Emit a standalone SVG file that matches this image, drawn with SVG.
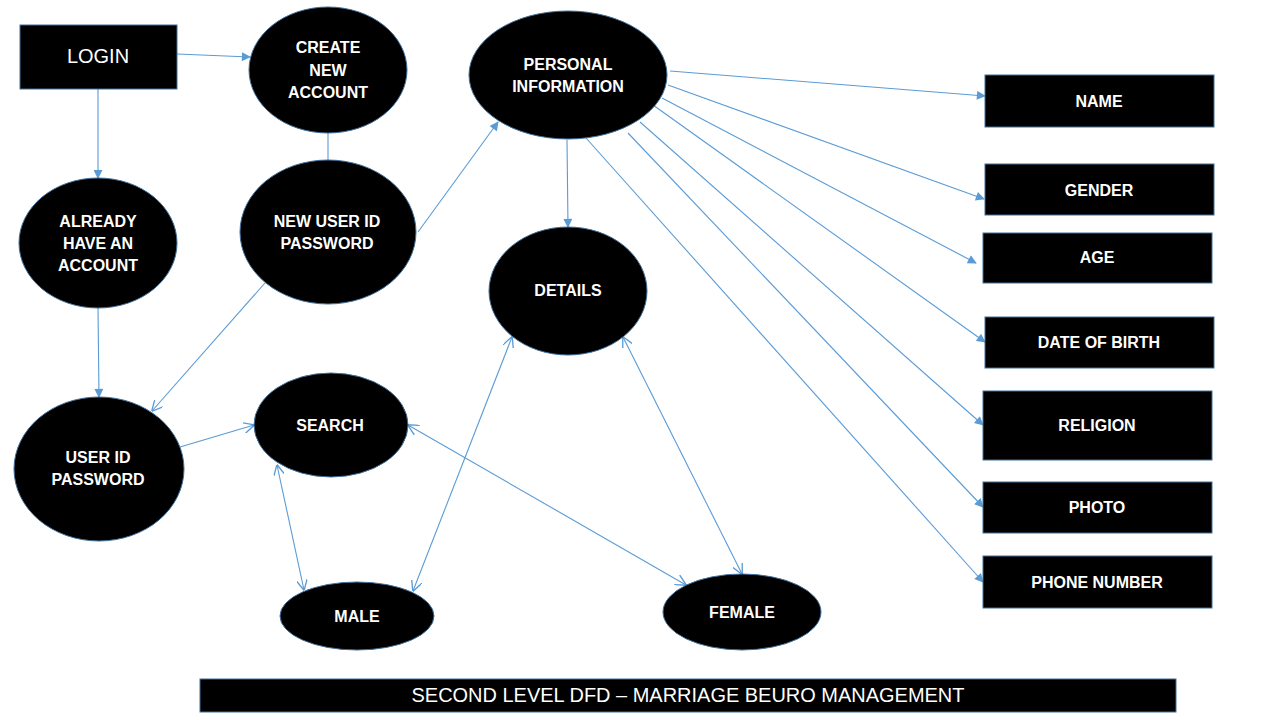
<svg xmlns="http://www.w3.org/2000/svg" width="1280" height="720" viewBox="0 0 1280 720">
<style>
.n{fill:#000;stroke:#41719C;stroke-width:1}
.t{fill:#fff;font-family:"Liberation Sans",Arial,sans-serif;font-weight:bold;font-size:16px;text-anchor:middle}
.r{fill:#fff;font-family:"Liberation Sans",Arial,sans-serif;font-size:20px;text-anchor:middle}
.c{fill:none;stroke:#5B9BD5;stroke-width:1.1}
.f{marker-end:url(#tri)}
.o{marker-end:url(#vee)}
.b{marker-start:url(#veeS);marker-end:url(#vee)}
</style>
<defs>
<marker id="tri" viewBox="0 0 10 10" refX="9" refY="5" markerWidth="11" markerHeight="9" markerUnits="userSpaceOnUse" orient="auto">
<path d="M0,0 L10,5 L0,10 z" fill="#5B9BD5"/>
</marker>
<marker id="vee" viewBox="0 0 10 10" refX="9.5" refY="5" markerWidth="11" markerHeight="11" markerUnits="userSpaceOnUse" orient="auto">
<path d="M0,0 L10,5 L0,10" fill="none" stroke="#5B9BD5" stroke-width="1.2"/>
</marker>
<marker id="veeS" viewBox="0 0 10 10" refX="0.5" refY="5" markerWidth="11" markerHeight="11" markerUnits="userSpaceOnUse" orient="auto">
<path d="M10,0 L0,5 L10,10" fill="none" stroke="#5B9BD5" stroke-width="1.2"/>
</marker>
</defs>
<rect width="1280" height="720" fill="#fff"/>
<g id="connectors">
<line class="c f" x1="177" y1="54" x2="250" y2="57"/>
<line class="c f" x1="98" y1="89" x2="98" y2="178"/>
<line class="c f" x1="98" y1="308" x2="99" y2="397"/>
<line class="c" x1="328" y1="133" x2="328" y2="161"/>
<line class="c o" x1="265" y1="283" x2="152" y2="411"/>
<line class="c o" x1="180" y1="447" x2="254" y2="425"/>
<line class="c f" x1="418" y1="232" x2="498" y2="122"/>
<line class="c f" x1="567" y1="140" x2="568" y2="227"/>
<line class="c f" x1="670" y1="71" x2="985" y2="96"/>
<line class="c f" x1="668" y1="85" x2="984" y2="199"/>
<line class="c f" x1="662" y1="98" x2="976" y2="263"/>
<line class="c f" x1="653" y1="105" x2="985" y2="342"/>
<line class="c f" x1="640" y1="122" x2="983" y2="425"/>
<line class="c f" x1="628" y1="133" x2="983" y2="507"/>
<line class="c f" x1="586" y1="138" x2="983" y2="582"/>
<line class="c b" x1="277" y1="465" x2="304" y2="590"/>
<line class="c b" x1="408" y1="425" x2="686" y2="585"/>
<line class="c b" x1="512" y1="337" x2="413" y2="591"/>
<line class="c b" x1="623" y1="337" x2="742" y2="574"/>
</g>
<g id="login"><rect class="n" x="20" y="25" width="157" height="64"/><text class="r" x="98" y="63">LOGIN</text></g>
<g id="create"><ellipse class="n" cx="328" cy="70" rx="79" ry="63"/><text class="t" x="328" y="53">CREATE</text><text class="t" x="328" y="76">NEW</text><text class="t" x="328" y="98">ACCOUNT</text></g>
<g id="newuser"><ellipse class="n" cx="328" cy="232" rx="88" ry="72"/><text class="t" x="327" y="227">NEW USER ID</text><text class="t" x="327" y="249">PASSWORD</text></g>
<g id="already"><ellipse class="n" cx="98" cy="243" rx="79" ry="65"/><text class="t" x="98" y="227">ALREADY</text><text class="t" x="98" y="249">HAVE AN</text><text class="t" x="98" y="271">ACCOUNT</text></g>
<g id="userid"><ellipse class="n" cx="99" cy="469" rx="85" ry="72"/><text class="t" x="98" y="463">USER ID</text><text class="t" x="98" y="485">PASSWORD</text></g>
<g id="personal"><ellipse class="n" cx="568" cy="75" rx="99" ry="64"/><text class="t" x="568" y="70">PERSONAL</text><text class="t" x="568" y="92">INFORMATION</text></g>
<g id="details"><ellipse class="n" cx="568" cy="291" rx="79" ry="64"/><text class="t" x="568" y="296">DETAILS</text></g>
<g id="search"><ellipse class="n" cx="331" cy="425" rx="77" ry="52"/><text class="t" x="330" y="431">SEARCH</text></g>
<g id="male"><ellipse class="n" cx="357" cy="616" rx="77" ry="34"/><text class="t" x="357" y="622">MALE</text></g>
<g id="female"><ellipse class="n" cx="742" cy="612" rx="79" ry="38"/><text class="t" x="742" y="618">FEMALE</text></g>
<g id="name"><rect class="n" x="985" y="75" width="229" height="52"/><text class="t" x="1099" y="107">NAME</text></g>
<g id="gender"><rect class="n" x="985" y="164" width="229" height="51"/><text class="t" x="1099" y="196">GENDER</text></g>
<g id="age"><rect class="n" x="983" y="233" width="229" height="50"/><text class="t" x="1097" y="263">AGE</text></g>
<g id="dob"><rect class="n" x="985" y="317" width="229" height="51"/><text class="t" x="1099" y="348">DATE OF BIRTH</text></g>
<g id="religion"><rect class="n" x="983" y="391" width="229" height="69"/><text class="t" x="1097" y="431">RELIGION</text></g>
<g id="photo"><rect class="n" x="983" y="482" width="229" height="51"/><text class="t" x="1097" y="513">PHOTO</text></g>
<g id="phone"><rect class="n" x="983" y="556" width="229" height="52"/><text class="t" x="1097" y="588">PHONE NUMBER</text></g>
<g id="title"><rect class="n" x="200" y="679" width="976" height="33"/><text class="r" x="688" y="702" textLength="553" lengthAdjust="spacingAndGlyphs">SECOND LEVEL DFD – MARRIAGE BEURO MANAGEMENT</text></g>
</svg>
